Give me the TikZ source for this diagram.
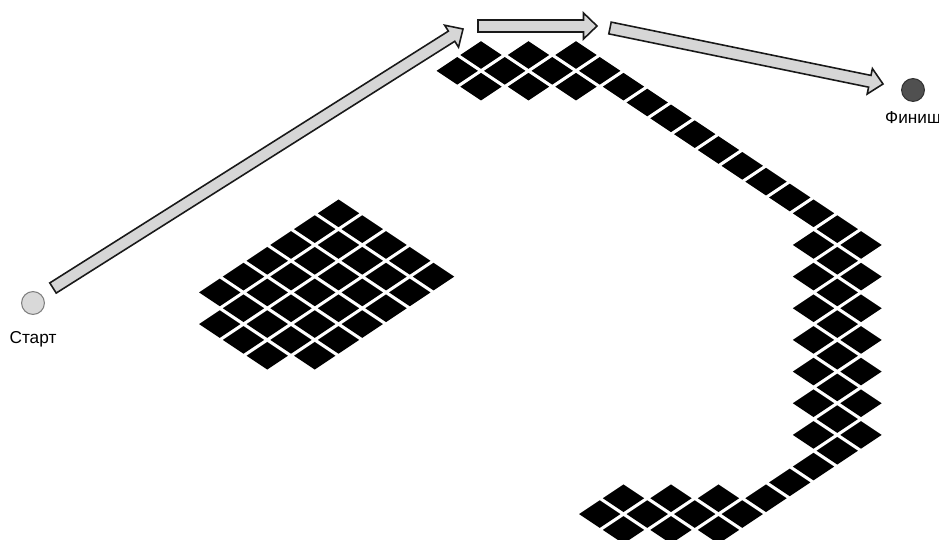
\documentclass[tikz,border=0pt]{standalone}
\usepackage{fontspec}
\setmainfont{Liberation Sans}
\usetikzlibrary{calc,positioning}

\definecolor{arrowgray}{HTML}{D6D6D6}
\definecolor{startgray}{HTML}{D9D9D9}
\definecolor{finishgray}{HTML}{505050}

\tikzset{
  tile/.pic={\fill[black] (0,-13.8) -- (20.7,0) -- (0,13.8) -- (-20.7,0) -- cycle;},
  fatarrow/.style={draw=black!90, fill=arrowgray, line width=0.9pt, line join=miter},
  point/.style={circle, minimum size=13pt, inner sep=0pt, line width=0.6pt},
  caption/.style={font=\fontsize{9.8}{12}\selectfont, inner sep=0pt, anchor=base}
}

% one black cell of the floor grid
\newcommand{\tilecell}[2]{\pic at ({481+23.75*(#1)},{55+15.83*(#2)}) {tile};}
% wide arrow from #1 to #2
\newcommand{\widearrow}[2]{%
  \draw[fatarrow] ($(#1)!0.12cm!90:(#2)$) -- ($(#2)!0.27cm!(#1)!0.12cm!90:(#2)$)
    -- ($(#2)!0.27cm!(#1)!0.26cm!90:(#2)$) -- (#2)
    -- ($(#2)!0.27cm!(#1)!0.26cm!-90:(#2)$) -- ($(#2)!0.27cm!(#1)!0.12cm!-90:(#2)$)
    -- ($(#1)!0.12cm!-90:(#2)$) -- cycle;}

\begin{document}
\begin{tikzpicture}[x=0.02cm, y=-0.02cm]
  \useasboundingbox (0,0) rectangle (939,540);

  % big block
  \foreach \i in {0,...,4}
    \foreach \j in {0,...,5}
      {\tilecell{-6+\i-\j}{10+\i+\j}}
  \foreach \i in {1,2,3} {\tilecell{\i-12}{16+\i}}

  % top group and path down to the bottom
  \foreach \cx/\cy in {0/0,2/0,4/0,-1/1,1/1,3/1,5/1,0/2,2/2,4/2} {\tilecell{\cx}{\cy}}
  \foreach \k in {6,...,15} {\tilecell{\k}{\k-4}}
  \foreach \r in {12,14,...,24} {\tilecell{14}{\r} \tilecell{16}{\r} \tilecell{15}{\r+1}}
  \foreach \k in {11,...,14} {\tilecell{\k}{40-\k}}
  \foreach \cx/\cy in {6/28,8/28,10/28,5/29,7/29,9/29,6/30,8/30,10/30} {\tilecell{\cx}{\cy}}

  % start and finish
  \node (start) [point, draw=gray, fill=startgray] at (33,303) {};
  \node (startlabel) [caption] at (33,343.3) {Старт};
  \node (finish) [point, draw=black!80, fill=finishgray] at (913,90) {};
  \node (finishlabel) [caption] at (913,123.3) {Финиш};

  % route
  \coordinate (a1tail) at (53,288);
  \coordinate (a1tip) at (463,29);
  \coordinate (a2tail) at (478,26);
  \coordinate (a2tip) at (597,26);
  \coordinate (a3tail) at (610,28);
  \coordinate (a3tip) at (883,84);
  \widearrow{a1tail}{a1tip}
  \widearrow{a2tail}{a2tip}
  \widearrow{a3tail}{a3tip}
\end{tikzpicture}
\end{document}
